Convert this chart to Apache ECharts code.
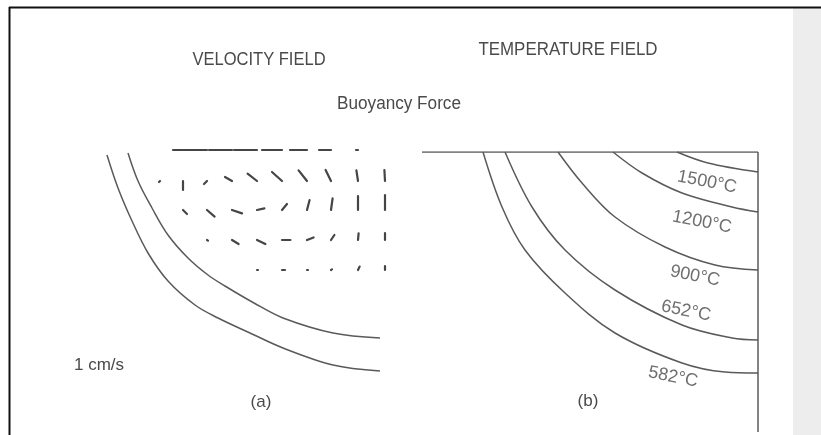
<!DOCTYPE html>
<html><head><meta charset="utf-8">
<script src="https://cdn.jsdelivr.net/npm/echarts@6/dist/echarts.min.js"></script>
<style>html,body{margin:0;padding:0;background:#fff}#c{width:821px;height:435px}</style>
</head><body><div id="c"></div>
<script>
// ---------- Panel (a): velocity field ----------
// grid columns: distance from weld centreline (mm); rows: depth below surface (mm)
const velColumns = [-5.625, -5.05, -4.45, -3.825, -3.2, -2.575, -1.95, -1.35, -0.675, 0];
const velRowDepths = [0, 0.775, 1.5, 2.25, 3.0];
// horizontal (u, + toward centreline) and vertical (v, + upward) velocity, cm/s
const uSurface = [null, -0.5, -1.15, -1.15, -1.15, -1.0, -0.85, -0.6, -0.1, null];
const vSurface = [null, 0, 0, 0, 0, 0, 0, 0, 0, null];
const uRow1 = [-0.05, 0, -0.15, -0.35, -0.47, -0.5, -0.42, -0.27, -0.08, -0.03];
const vRow1 = [-0.05, -0.45, -0.15, 0.2, 0.37, 0.45, 0.53, 0.55, 0.53, 0.55];
const uRow2 = [null, 0.2, 0.38, 0.5, 0.37, 0.25, 0.13, 0.08, 0, 0];
const vRow2 = [null, -0.2, -0.33, -0.17, 0.08, 0.3, 0.5, 0.58, 0.7, 0.75];
const uRow3 = [null, null, 0.05, 0.33, 0.42, 0.42, 0.33, 0.17, 0.03, 0];
const vRow3 = [null, null, -0.03, -0.2, -0.2, 0, 0.13, 0.25, 0.33, 0.35];
const uRow4 = [null, null, null, null, 0.05, 0.15, 0.05, 0.05, 0.08, 0];
const vRow4 = [null, null, null, null, 0, 0, 0, 0.03, 0.17, 0.2];
const velU = [uSurface, uRow1, uRow2, uRow3, uRow4];
const velV = [vSurface, vRow1, vRow2, vRow3, vRow4];
const arrowScale = 0.5; // mm of arrow per cm/s

// fusion-zone boundaries of panel (a): [x mm, depth mm]
const outerBoundary = [[-6.95,0.125],[-6.675,0.95],[-6.325,1.775],[-5.925,2.575],[-5.425,3.275],[-4.75,3.875],[-4.175,4.2],[-3.375,4.575],[-2.55,4.95],[-1.3,5.375],[-0.125,5.525]];
const innerBoundary = [[-6.425,0.075],[-6.175,0.775],[-5.825,1.45],[-5.425,2.125],[-4.925,2.7],[-4.425,3.125],[-4.0,3.4],[-3.275,3.825],[-2.55,4.2],[-1.3,4.575],[-0.125,4.7]];

// ---------- Panel (b): temperature field ----------
const iso582  = [[-6.875,0],[-6.4,1.375],[-5.825,2.45],[-4.825,3.525],[-3.575,4.525],[-1.9,5.275],[-0.825,5.5],[0,5.525]];
const iso652  = [[-6.325,0],[-5.65,1.375],[-4.825,2.45],[-3.575,3.45],[-1.9,4.325],[-0.65,4.65],[0,4.7]];
const iso900  = [[-5.0,0],[-4.4,0.775],[-3.575,1.625],[-2.325,2.375],[-1.075,2.825],[0,2.95]];
const iso1200 = [[-3.625,0],[-2.9,0.525],[-1.9,1.025],[-0.65,1.375],[0,1.5]];
const iso1500 = [[-2.025,0],[-1.25,0.275],[0,0.5]];
const isoLabels = ['1500°C', '1200°C', '900°C', '652°C', '582°C'];
const isoLabelX = [-1.275, -1.4, -1.575, -1.8, -2.125];
const isoLabelDepth = [0.75, 1.75, 3.1, 3.975, 5.625];
const surfaceLine = [[-8.4, 0], [0, 0]];
const centreLine = [[0, 0], [0, 7]];

// ---------- build ----------
const vecData = [];
velRowDepths.forEach((d, r) => {
  velColumns.forEach((x, c) => {
    if (velU[r][c] !== null) vecData.push([x, d, velU[r][c], velV[r][c]]);
  });
});

const FONT = "'Liberation Sans', Arial, sans-serif";
const INK = '#4a4a4a';
const lineSeries = (data, gi) => ({
  type: 'line', xAxisIndex: gi, yAxisIndex: gi, data, symbol: 'none', smooth: 0.35,
  silent: true, lineStyle: { color: '#5a5a5a', width: 1.5 }
});
const axX = i => ({ gridIndex: i, type: 'value', min: -9, max: 0, show: false });
const axY = i => ({ gridIndex: i, type: 'value', min: 0, max: 7, inverse: true, show: false });
const txt = (text, x, y, size, sx) => ({
  type: 'text', x, y, scaleX: sx || 1, silent: true,
  style: { text, fontSize: size, fontFamily: FONT, fill: INK, align: 'center', verticalAlign: 'middle' }
});

const chart = echarts.init(document.getElementById('c'));
chart.setOption({
  animation: false,
  backgroundColor: '#ffffff',
  grid: [
    { left: 25, top: 150, width: 360, height: 280 },
    { left: 398, top: 152, width: 360, height: 280 }
  ],
  xAxis: [axX(0), axX(1)],
  yAxis: [axY(0), axY(1)],
  series: [
    lineSeries(outerBoundary, 0),
    lineSeries(innerBoundary, 0),
    {
      type: 'custom', xAxisIndex: 0, yAxisIndex: 0, silent: true, clip: false,
      data: vecData,
      renderItem: (params, api) => {
        const x = api.value(0), d = api.value(1), u = api.value(2), v = api.value(3);
        const p0 = api.coord([x, d]);
        const p1 = api.coord([x + u * arrowScale, d - v * arrowScale]);
        return { type: 'line', shape: { x1: p0[0], y1: p0[1], x2: p1[0], y2: p1[1] },
                 style: { stroke: '#454545', lineWidth: 2.2, lineCap: 'round' } };
      }
    },
    lineSeries(surfaceLine, 1),
    lineSeries(centreLine, 1),
    lineSeries(iso582, 1),
    lineSeries(iso652, 1),
    lineSeries(iso900, 1),
    lineSeries(iso1200, 1),
    lineSeries(iso1500, 1),
    {
      type: 'scatter', xAxisIndex: 1, yAxisIndex: 1, symbolSize: 0, silent: true,
      data: isoLabels.map((n, i) => ({ name: n, value: [isoLabelX[i], isoLabelDepth[i]] })),
      label: { show: true, position: 'inside', formatter: p => p.name, rotate: -11,
               fontSize: 18, fontFamily: FONT, color: INK }
    }
  ],
  graphic: [
    { type: 'rect', shape: { x: 793, y: 8, width: 28, height: 427 }, style: { fill: '#ededed' }, silent: true, z: -10 },
    { type: 'line', shape: { x1: 9, y1: 7.5, x2: 821, y2: 7.5 }, style: { stroke: '#111', lineWidth: 2 }, silent: true },
    { type: 'line', shape: { x1: 9.5, y1: 7, x2: 9.5, y2: 435 }, style: { stroke: '#111', lineWidth: 2 }, silent: true },
    txt('VELOCITY FIELD', 259, 60, 19, 0.87),
    txt('TEMPERATURE FIELD', 568, 50, 19, 0.89),
    txt('Buoyancy Force', 399, 104, 17.5, 0.98),
    txt('1 cm/s', 99, 365, 17, 1),
    txt('(a)', 261, 402, 17, 1),
    txt('(b)', 588, 401, 17, 1)
  ]
});
</script>
</body></html>
